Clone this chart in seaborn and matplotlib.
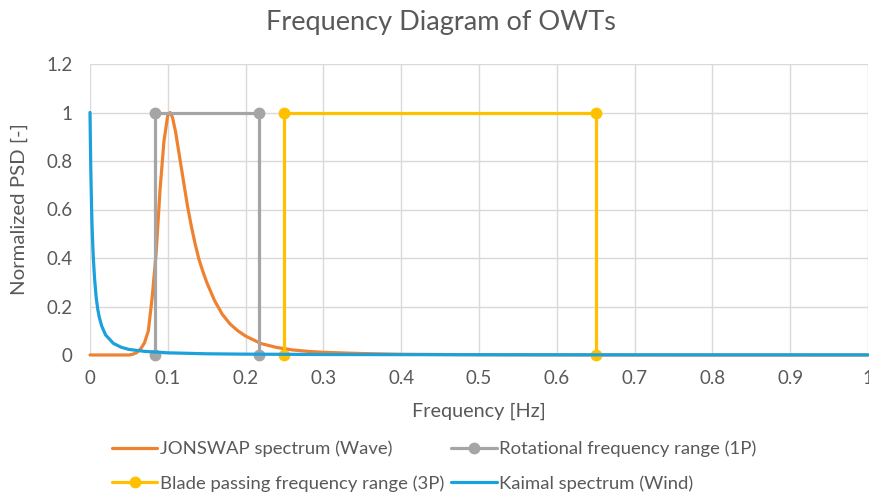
import pandas as pd
import matplotlib
matplotlib.use('Agg')
import matplotlib.pyplot as plt
import seaborn as sns

# JONSWAP spectrum (wave), normalised
jonswap_f = [0.0, 0.050, 0.055, 0.060, 0.065, 0.070, 0.075, 0.080, 0.085, 0.090,
             0.095, 0.100, 0.103, 0.106, 0.110, 0.115, 0.120, 0.125, 0.130, 0.135,
             0.140, 0.145, 0.150, 0.160, 0.170, 0.180, 0.190, 0.200, 0.220, 0.240,
             0.260, 0.280, 0.300, 0.350, 0.400, 0.500, 0.600, 0.800, 1.0]
jonswap_psd = [0.0, 0.0, 0.003, 0.01, 0.025, 0.05, 0.10, 0.24, 0.42, 0.68,
               0.88, 0.99, 1.0, 0.98, 0.92, 0.82, 0.72, 0.62, 0.535, 0.46,
               0.395, 0.345, 0.30, 0.225, 0.168, 0.128, 0.10, 0.078, 0.047, 0.031,
               0.021, 0.015, 0.011, 0.006, 0.003, 0.0012, 0.0005, 0.0001, 0.0]

# Kaimal spectrum (wind), normalised
kaimal_f = [0.0, 0.0005, 0.001, 0.0015, 0.002, 0.0025, 0.003, 0.004, 0.005, 0.006,
            0.008, 0.010, 0.012, 0.015, 0.020, 0.030, 0.040, 0.050, 0.070, 0.100,
            0.150, 0.200, 0.300, 0.500, 0.700, 1.0]
kaimal_psd = [1.0, 0.88, 0.77, 0.69, 0.61, 0.55, 0.50, 0.42, 0.36, 0.31,
              0.236, 0.188, 0.155, 0.12, 0.083, 0.048, 0.032, 0.023, 0.015, 0.009,
              0.005, 0.0035, 0.002, 0.001, 0.0006, 0.0004]

# 1P and 3P ranges (drawn as open rectangles)
rot_f = [0.0833, 0.0833, 0.2167, 0.2167]
rot_psd = [0, 1, 1, 0]
blade_f = [0.25, 0.25, 0.65, 0.65]
blade_psd = [0, 1, 1, 0]

x_ticks = [0, 0.1, 0.2, 0.3, 0.4, 0.5, 0.6, 0.7, 0.8, 0.9, 1]
x_labels = ['0', '0.1', '0.2', '0.3', '0.4', '0.5', '0.6', '0.7', '0.8', '0.9', '1']
y_ticks = [0, 0.2, 0.4, 0.6, 0.8, 1.0, 1.2]
y_labels = ['0', '0.2', '0.4', '0.6', '0.8', '1', '1.2']

sns.set_theme(style='white')
plt.rcParams['font.family'] = ['Lato', 'DejaVu Sans']

txt = '#595959'
c_orange = '#ef8230'
c_gray = '#a5a5a5'
c_yellow = '#ffc000'
c_blue = '#1ba1dc'

fig = plt.figure(figsize=(8.7, 5.01), dpi=100)
ax = fig.add_axes([90 / 870, 1 - 355 / 501, 778 / 870, 291 / 501])

df_j = pd.DataFrame({'f': jonswap_f, 'psd': jonswap_psd})
df_k = pd.DataFrame({'f': kaimal_f, 'psd': kaimal_psd})
df_r = pd.DataFrame({'f': rot_f, 'psd': rot_psd})
df_b = pd.DataFrame({'f': blade_f, 'psd': blade_psd})

common = dict(x='f', y='psd', ax=ax, lw=2.3, sort=False, estimator=None, errorbar=None)
sns.lineplot(data=df_j, color=c_orange, label='JONSWAP spectrum (Wave)', zorder=3, **common)
sns.lineplot(data=df_r, color=c_gray, marker='o', markersize=8.5, markeredgewidth=0,
             label='Rotational frequency range (1P)', zorder=4, **common)
sns.lineplot(data=df_b, color=c_yellow, marker='o', markersize=8.5, markeredgewidth=0,
             label='Blade passing frequency range (3P)', zorder=4, **common)
sns.lineplot(data=df_k, color=c_blue, label='Kaimal spectrum (Wind)', zorder=5, **common)

# markers sitting on the zero line must not be cut in half
for line in ax.lines:
    line.set_clip_on(False)

ax.set_xlim(0, 1)
ax.set_ylim(0, 1.2)
ax.set_xticks(x_ticks)
ax.set_xticklabels(x_labels)
ax.set_yticks(y_ticks)
ax.set_yticklabels(y_labels)
ax.tick_params(axis='both', colors=txt, labelsize=13.5, length=0)
ax.tick_params(axis='y', pad=12.5)
ax.tick_params(axis='x', pad=11)
ax.grid(True, color='#d9d9d9', lw=1)
for s in ax.spines.values():
    s.set_visible(False)
ax.set_axisbelow(True)

ax.set_xlabel('Frequency [Hz]', color=txt, fontsize=14.3, labelpad=11)
ax.set_ylabel('Normalized PSD [-]', color=txt, fontsize=14.7, labelpad=13)

fig.suptitle('Frequency Diagram of OWTs', x=0.507, y=0.98, color=txt, fontsize=19.5)

h, l = ax.get_legend_handles_labels()
order = [0, 2, 1, 3]
ax.legend([h[i] for i in order], [l[i] for i in order], ncol=2,
          loc='upper left', bbox_to_anchor=(22 / 778, -0.295), frameon=False,
          fontsize=13.3, labelcolor=txt, handlelength=2.45, handletextpad=0.15,
          columnspacing=0.38, borderaxespad=0, labelspacing=0.95, borderpad=0)

fig.savefig('out.png', dpi=100)
plt.close(fig)
